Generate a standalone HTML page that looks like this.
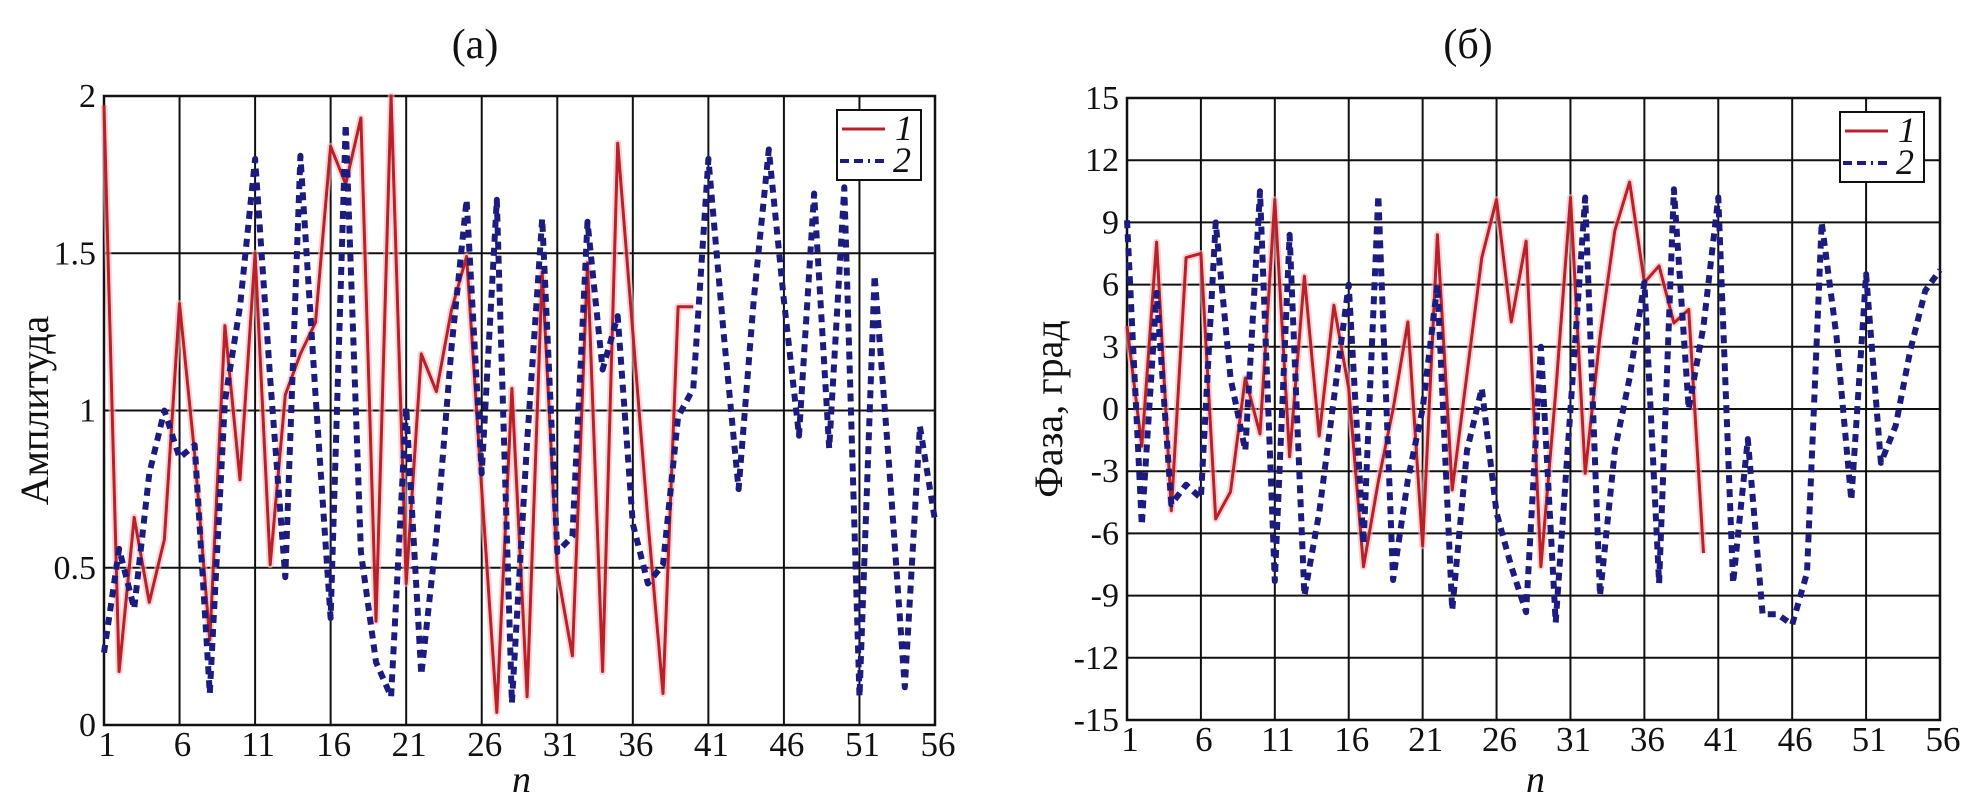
<!DOCTYPE html>
<html><head><meta charset="utf-8"><style>
html,body{margin:0;padding:0;background:#fff;}
svg{display:block;font-family:"Liberation Serif",serif;}
svg text{font-family:"Liberation Serif",serif;}
</style></head><body>
<svg id="fig" width="1979" height="812" viewBox="0 0 1979 812">
<g id="chartA"></g>
<g id="chartB"></g>
</svg>
<script>
const nCats = Array.from({length:56},(_, i)=>i+1);
const xTicks = [1,6,11,16,21,26,31,36,41,46,51,56];
const ampTicks = [0,0.5,1,1.5,2];
const ampTickLabels = ["0","0.5","1","1.5","2"];
const phaseTicks = [-15,-12,-9,-6,-3,0,3,6,9,12,15];
const phaseTickLabels = ["-15","-12","-9","-6","-3","0","3","6","9","12","15"];
const amp1 = [1.97,0.17,0.66,0.39,0.59,1.34,0.86,0.27,1.27,0.78,1.5,0.51,1.05,1.18,1.28,1.84,1.72,1.93,0.33,2.0,0.45,1.18,1.06,1.32,1.49,0.75,0.04,1.07,0.09,1.44,0.49,0.22,1.47,0.17,1.85,1.25,0.65,0.1,1.33,1.33];
const amp2 = [0.23,0.56,0.37,0.8,1.0,0.85,0.89,0.1,1.03,1.33,1.8,1.1,0.47,1.81,1.05,0.34,1.91,0.55,0.2,0.09,1.01,0.16,0.6,1.2,1.67,0.8,1.67,0.07,0.9,1.61,0.55,0.6,1.6,1.13,1.3,0.64,0.45,0.51,0.98,1.07,1.8,1.25,0.75,1.35,1.83,1.35,0.92,1.69,0.88,1.71,0.09,1.43,0.8,0.12,0.95,0.65];
const phase1 = [4.0,-1.8,8.05,-4.9,7.3,7.5,-5.3,-4.0,1.5,-1.2,10.1,-2.3,6.4,-1.3,5.0,1.0,-7.6,-3.5,0,4.2,-6.6,8.4,-3.9,1.7,7.3,10.1,4.2,8.1,-7.6,0.8,10.2,-3.1,3.5,8.6,10.95,6.1,6.9,4.15,4.8,-6.95];
const phase2 = [9.1,-5.6,5.6,-4.6,-3.65,-4.3,9.0,1.5,-2.0,10.5,-8.3,8.4,-9.0,-5.0,0.5,6.0,-6.5,10.3,-8.25,-3.4,0,6.0,-9.7,-2.0,1.0,-5.0,-7.6,-9.8,3.0,-10.3,0,10.2,-9.0,-2.0,1.5,6.1,-8.4,10.6,0.0,4.0,10.2,-8.4,-1.45,-9.9,-9.9,-10.4,-7.9,9.0,3.5,-4.4,6.5,-2.6,-0.8,2.85,5.7,6.7];

const NS="http://www.w3.org/2000/svg";
const FF='"Liberation Serif", serif';
function mk(parent,tag,attrs){const e=document.createElementNS(NS,tag);for(const k in attrs)e.setAttribute(k,attrs[k]);parent.appendChild(e);return e;}

function drawChart(g,cfg){
  const {L,R,T,B,ymin,ymax,yt,ytl,s1,s2,title,titleX,ylab,ylabX,lx}=cfg;
  const xs=n=>L+(n-1)*(R-L)/55;
  const ys=v=>B-(v-ymin)*(B-T)/(ymax-ymin);
  yt.forEach(v=>{
    const l=mk(g,'line',{x1:L,x2:R,y1:ys(v),y2:ys(v),stroke:'#111','stroke-width':2});
    
    
  });
  xTicks.forEach(n=>{
    const l=mk(g,'line',{x1:xs(n),x2:xs(n),y1:T,y2:B,stroke:'#111','stroke-width':2});
    
    
    const t=mk(g,'text',{x:xs(n)+3,y:B+31,'font-size':35,'font-family':FF,'text-anchor':'middle',fill:'#111'});
    t.textContent=n;
    
    
  });
  yt.forEach((v,i)=>{
    const t=mk(g,'text',{x:L-8,y:ys(v)+11,'font-size':34,'font-family':FF,'text-anchor':'end',fill:'#111'});
    t.textContent=ytl[i];
    
    
  });
  const fr=mk(g,'rect',{x:L,y:T,width:R-L,height:B-T,fill:'none',stroke:'#111','stroke-width':2.5});
  
  
  const p1=s1.map((v,i)=>xs(nCats[i]).toFixed(1)+','+ys(v).toFixed(1)).join(' ');
  const p2=s2.map((v,i)=>xs(nCats[i]).toFixed(1)+','+ys(v).toFixed(1)).join(' ');
  const glow=mk(g,'polyline',{points:p1,fill:'none',stroke:'#f4b8b8','stroke-width':7,'stroke-linejoin':'round',opacity:0.6});
  
  
  const l1=mk(g,'polyline',{points:p1,fill:'none',stroke:'#b8202a','stroke-width':3,'stroke-linejoin':'round'});
  
  
  const l2=mk(g,'polyline',{points:p2,fill:'none',stroke:'#1c1c80','stroke-width':6,'stroke-dasharray':'8 6','stroke-linejoin':'round'});
  
  
  const lg=mk(g,'g',{});
  
  
  mk(lg,'rect',{x:lx,y:T+14,width:84,height:70,fill:'#fff',stroke:'#111','stroke-width':2});
  const e1=mk(lg,'line',{x1:lx+5,x2:lx+48,y1:T+33,y2:T+33,stroke:'#b8202a','stroke-width':3});
  
  
  const t1=mk(lg,'text',{x:lx+58,y:T+44,'font-size':36,'font-family':FF,'font-style':'italic',fill:'#111'});t1.textContent='1';
  
  
  const e2=mk(lg,'line',{x1:lx+3,x2:lx+48,y1:T+65,y2:T+65,stroke:'#1c1c80','stroke-width':4,'stroke-dasharray':'9 5 9 5 2 5'});
  
  
  const t2=mk(lg,'text',{x:lx+56,y:T+76,'font-size':36,'font-family':FF,'font-style':'italic',fill:'#111'});t2.textContent='2';
  
  
  const tt=mk(g,'text',{x:titleX,y:58,'font-size':42,'font-family':FF,'text-anchor':'middle',fill:'#111'});tt.textContent=title;
  
  
  const xl=mk(g,'text',{x:(L+R)/2+2,y:792,'font-size':38,'font-family':FF,'font-style':'italic','text-anchor':'middle',fill:'#111'});xl.textContent='n';
  
  
  const yc=(T+B)/2;
  const yl=mk(g,'text',{x:ylabX,y:yc,'font-size':40,'font-family':FF,'text-anchor':'middle',fill:'#111',transform:`rotate(-90 ${ylabX} ${yc})`});
  yl.textContent=ylab;
  
  
}
drawChart(document.getElementById('chartA'),{L:104,R:935,T:96,B:725,ymin:0,ymax:2,yt:ampTicks,ytl:ampTickLabels,s1:amp1,s2:amp2,title:'(а)',titleX:475,ylab:'Амплитуда',ylabX:48,lx:837});
drawChart(document.getElementById('chartB'),{L:1127,R:1940,T:98,B:720,ymin:-15,ymax:15,yt:phaseTicks,ytl:phaseTickLabels,s1:phase1,s2:phase2,title:'(б)',titleX:1468,ylab:'Фаза,  град',ylabX:1062,lx:1840});
</script>
</body></html>
